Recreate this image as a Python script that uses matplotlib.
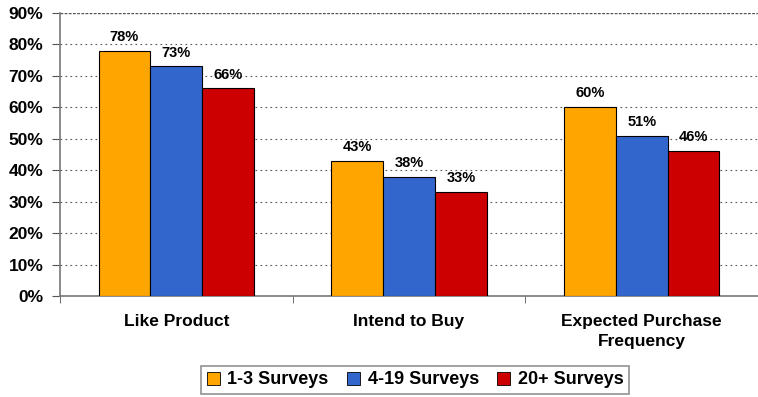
import numpy as np
from matplotlib import pyplot as plt

plt.rcParams['font.family'] = ['Liberation Sans', 'DejaVu Sans']
plt.rcParams['font.weight'] = 'bold'

categories = ['Like Product', 'Intend to Buy', 'Expected Purchase\nFrequency']
series = ['1-3 Surveys', '4-19 Surveys', '20+ Surveys']
s1 = [78, 43, 60]
s2 = [73, 38, 51]
s3 = [66, 33, 46]
colors = ['#FFA500', '#3366CC', '#CC0000']

fig = plt.figure(figsize=(7.58, 3.97), dpi=100)
ax = fig.add_axes([60/758, 1-296/397, 1-60/758, (296-13)/397])

x = np.arange(len(categories)) + 0.5
w = 0.223
for i, (vals, c, name) in enumerate(zip([s1, s2, s3], colors, series)):
    xs = x + (i - 1) * w
    ax.bar(xs, vals, w, color=c, edgecolor='black', linewidth=0.8, label=name, zorder=3)
    for xx, v in zip(xs, vals):
        ax.text(xx, v + 2.2, '%d%%' % v, ha='center', va='bottom', fontsize=10.5, fontweight='bold')

ax.set_ylim(0, 90)
ax.set_xlim(0, 2.951)
ax.set_yticks(range(0, 100, 10))
ax.set_yticklabels(['%d%%' % t for t in range(0, 100, 10)], fontsize=12.5, fontweight='bold')
for t in range(10, 90, 10):
    ax.axhline(t, color='#555555', linestyle=(0, (1.5, 3)), linewidth=0.8, zorder=1)
ax.axhline(90, color='#555555', linestyle=(0, (2, 1)), linewidth=1.0, zorder=1)

ax.set_xticks(x)
ax.set_xticklabels(categories, fontsize=12.5, fontweight='bold', linespacing=1.45)
ax.tick_params(axis='x', length=0, pad=13)
ax.set_xticks([0, 1, 2, 3], minor=True)
ax.tick_params(axis='x', which='minor', length=5, direction='out', color='#555555')
ax.tick_params(axis='y', length=6, direction='out', color='#555555', pad=6)

for s in ['top', 'right']:
    ax.spines[s].set_visible(False)
ax.spines['left'].set_color('#777777')
ax.spines['bottom'].set_color('#777777')
ax.spines['left'].set_linewidth(1.2)
ax.spines['bottom'].set_linewidth(1.2)

leg = fig.legend(loc='center', bbox_to_anchor=(415/758, 1-380/397), ncol=3, fontsize=13,
                 frameon=True, fancybox=False, edgecolor='#777777', handlelength=0.75,
                 handleheight=0.75, handletextpad=0.4, columnspacing=1.0, borderpad=0.3)
leg.get_frame().set_linewidth(1.2)
for p in leg.get_patches():
    p.set_linewidth(0.6)

plt.savefig('out.png', dpi=100)
